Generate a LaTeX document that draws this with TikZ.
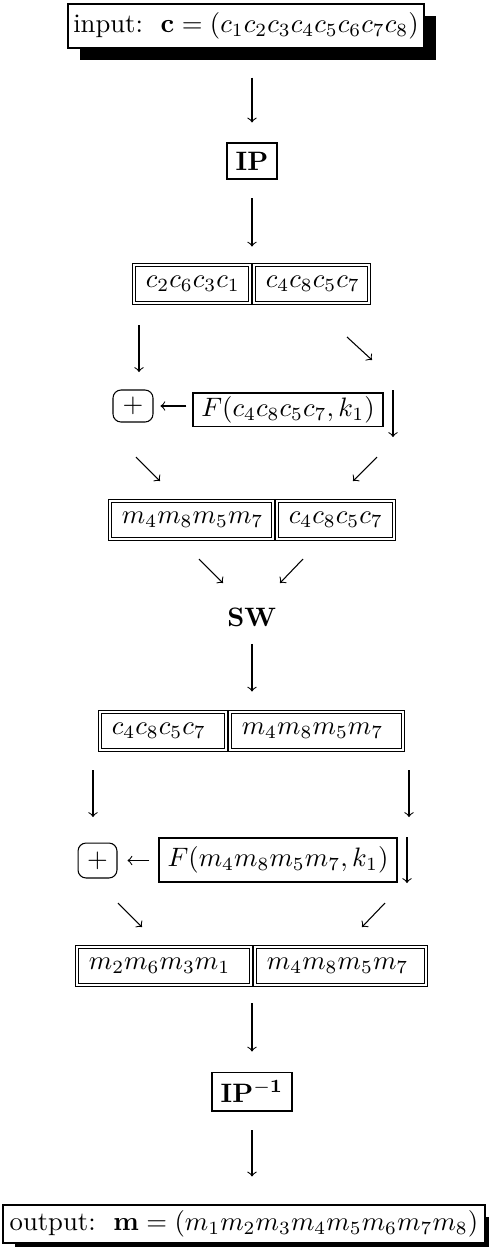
\documentclass[tikz,border=0pt]{standalone}
\usepackage{amsmath, amssymb}
\usepackage{tikz}
\usetikzlibrary{shadows}

\begin{document}
\begin{tikzpicture}[x=0.375pt, y=-0.375pt,
        plainbox/.style = {draw=black, inner sep=0pt},
        shadowed/.style = {draw=black, fill=white, inner sep=0pt,
            general shadow={fill=black, shadow xshift=4.5pt, shadow yshift=-4.5pt}},
        half/.style = {draw=black, double, double distance=0.8pt, inner xsep=4.4pt,
            inner ysep=0pt, minimum height=14.2pt, align=left},
        plus/.style = {draw=black, rounded corners=3pt, inner sep=0pt},
        flow/.style = {-to}]
        \useasboundingbox (0,0) rectangle (489,1247);

        % input and initial permutation
        \node[shadowed, minimum width=133.5pt, minimum height=16.5pt] (in) at (246,26)
            {input:\ \ $\mathbf{c}=(c_1c_2c_3c_4c_5c_6c_7c_8)$};
        \node[plainbox, minimum width=18.75pt, minimum height=13.5pt] (ip) at (252,161) {$\mathbf{IP}$};

        % first round
        \node[half, text width=34.6pt] (r1l) at (192,284) {$c_2c_6c_3c_1$};
        \node[half, text width=34.2pt] (r1r) at (311.5,284) {$c_4c_8c_5c_7$};
        \node[plus, minimum width=15pt, minimum height=12pt] (p1) at (133,406) {$+$};
        \node[plainbox, minimum width=71.25pt, minimum height=12.4pt] (f1) at (288,409.5) {$F(c_4c_8c_5c_7,k_1)$};
        \node[half, text width=52.2pt] (r9l) at (191.5,520) {$m_4m_8m_5m_7$};
        \node[half, text width=35pt] (r9r) at (335.5,520) {$c_4c_8c_5c_7$};

        % swap
        \node[inner sep=0pt] (sw) at (252,617) {$\mathbf{SW}$};

        % second round
        \node[half, text width=38.35pt] (r13l) at (163,731) {$c_4c_8c_5c_7$};
        \node[half, text width=56pt] (r13r) at (316.5,731) {$m_4m_8m_5m_7$};
        \node[plus, minimum width=14.6pt, minimum height=13.1pt] (p2) at (97.5,860.5) {$+$};
        \node[plainbox, minimum width=89.25pt, minimum height=16.5pt] (f2) at (278,860) {$F(m_4m_8m_5m_7,k_1)$};
        \node[half, text width=56.35pt] (r17l) at (164,966) {$m_2m_6m_3m_1$};
        \node[half, text width=55.2pt] (r17r) at (340.5,966) {$m_4m_8m_5m_7$};

        % inverse permutation and output
        \node[plainbox, minimum width=30pt, minimum height=14.6pt] (ipinv) at (252,1091.5) {$\mathbf{IP^{-1}}$};
        \node[shadowed, minimum width=180.75pt, minimum height=14.25pt] (out) at (244,1224)
            {output:\ \ $\mathbf{m}=(m_1m_2m_3m_4m_5m_6m_7m_8)$};

        % free arrow ends
        \coordinate (d1a) at (139,325);  \coordinate (d1b) at (139,372);
        \coordinate (s1a) at (347,337);  \coordinate (s1b) at (372,360);
        \coordinate (d2a) at (393,390);  \coordinate (d2b) at (393,437);
        \coordinate (s2a) at (136,457);  \coordinate (s2b) at (160,481);
        \coordinate (s3a) at (377,457);  \coordinate (s3b) at (353,481);
        \coordinate (s4a) at (199,559);  \coordinate (s4b) at (223,583);
        \coordinate (s5a) at (303,559);  \coordinate (s5b) at (280,583);
        \coordinate (d3a) at (93,770);   \coordinate (d3b) at (93,817);
        \coordinate (d4a) at (409,770);  \coordinate (d4b) at (409,817);
        \coordinate (d5a) at (407,837);  \coordinate (d5b) at (407,883);
        \coordinate (s6a) at (118,903);  \coordinate (s6b) at (142,927);
        \coordinate (s7a) at (385,903);  \coordinate (s7b) at (362,927);

        \draw[flow, shorten <=10.9pt, shorten >=7.5pt] (in.south -| ip) -- (ip);
        \draw[flow, shorten <=7.1pt, shorten >=6.75pt] (ip) -- (ip |- r1l.north);
        \draw[flow] (d1a) -- (d1b);
        \draw[flow] (s1a) -- (s1b);
        \draw[flow, shorten <=2.25pt, shorten >=2.6pt] (p1 -| f1.west) -- (p1);
        \draw[flow] (d2a) -- (d2b);
        \draw[flow] (s2a) -- (s2b);
        \draw[flow] (s3a) -- (s3b);
        \draw[flow] (s4a) -- (s4b);
        \draw[flow] (s5a) -- (s5b);
        \draw[flow, shorten <=6.4pt, shorten >=7.5pt] (sw) -- (sw |- r13l.north);
        \draw[flow] (d3a) -- (d3b);
        \draw[flow] (d4a) -- (d4b);
        \draw[flow, shorten <=3.4pt, shorten >=3.75pt] (p2 -| f2.west) -- (p2);
        \draw[flow] (d5a) -- (d5b);
        \draw[flow] (s6a) -- (s6b);
        \draw[flow] (s7a) -- (s7b);
        \draw[flow, shorten <=6.75pt, shorten >=7.5pt] (r17l.south -| ipinv) -- (ipinv);
        \draw[flow, shorten <=7.1pt, shorten >=10.5pt] (ipinv) -- (ipinv |- out.north);
    \end{tikzpicture}
\end{document}
